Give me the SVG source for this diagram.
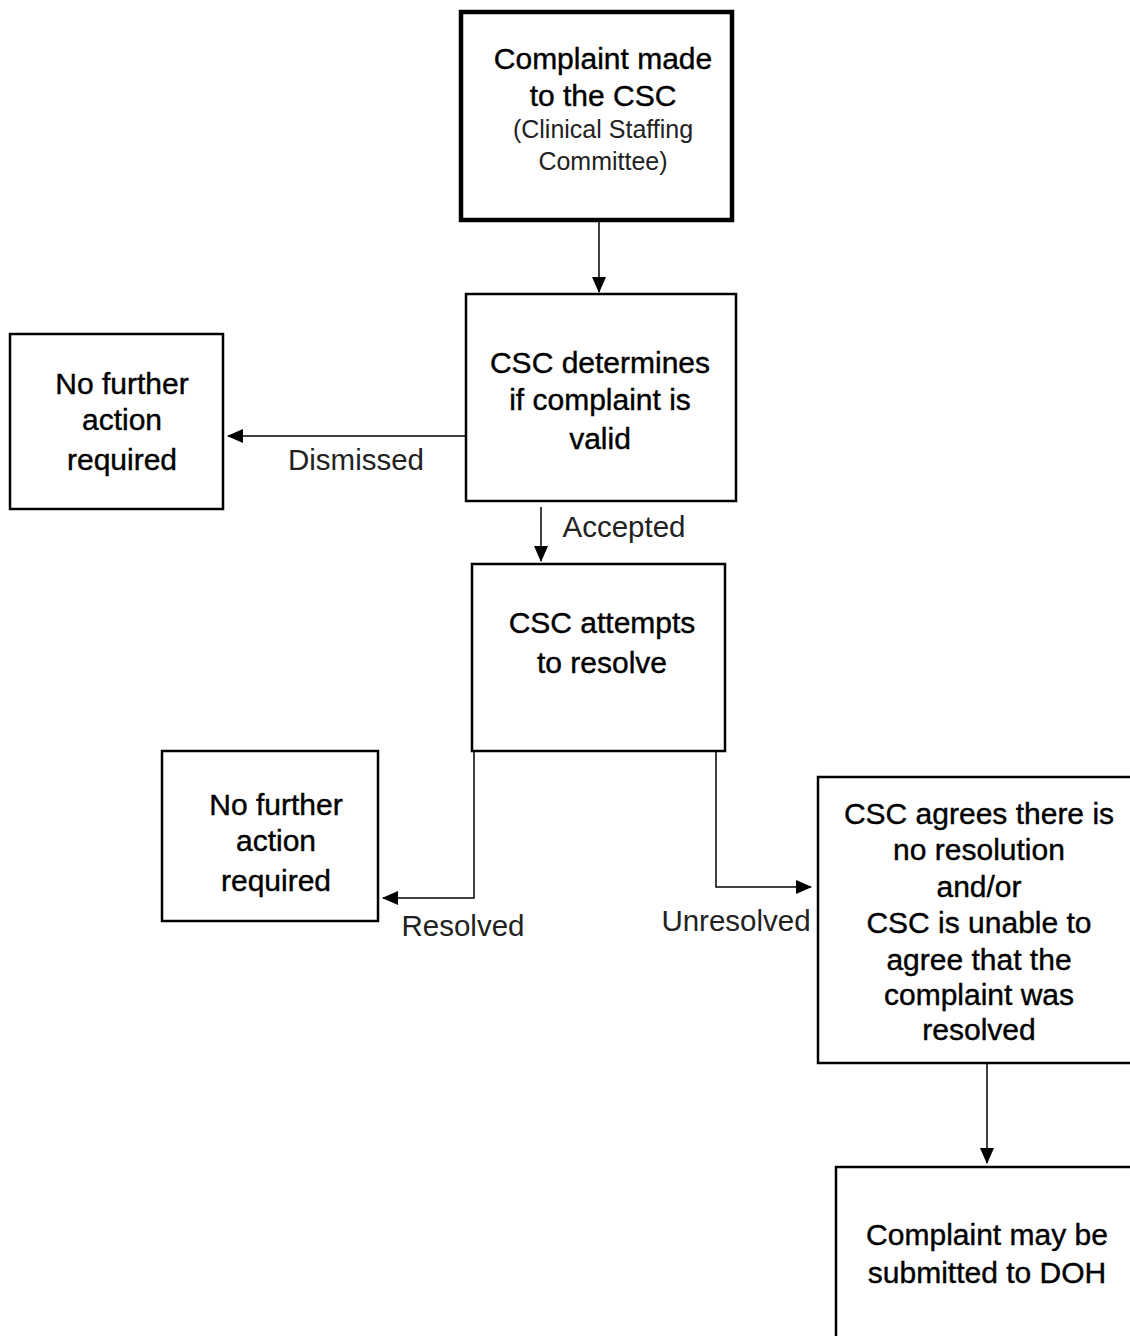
<svg xmlns="http://www.w3.org/2000/svg" width="1130" height="1336" viewBox="0 0 1130 1336">
<style>
.box{fill:#fff;stroke:#000;stroke-width:2.5}
.thick{stroke-width:4.5}
.t{font-family:"Liberation Sans",Arial,sans-serif;font-size:30px;fill:#000;stroke:#000;stroke-width:0.4;text-anchor:middle}
.s{font-family:"Liberation Sans",Arial,sans-serif;font-size:25px;fill:#222;text-anchor:middle}
.l{font-family:"Liberation Sans",Arial,sans-serif;font-size:29.5px;fill:#222;text-anchor:middle}
.c{fill:none;stroke:#000;stroke-width:1.5}
</style>
<defs>
<marker id="ah" markerUnits="userSpaceOnUse" markerWidth="16" markerHeight="14" refX="15" refY="7" orient="auto">
<path d="M0,0 L16,7 L0,14 Z" fill="#000"/>
</marker>
</defs>
<rect width="1130" height="1336" fill="#fff"/>
<g id="connectors">
<line class="c" x1="599" y1="222" x2="599" y2="292" marker-end="url(#ah)"/>
<line class="c" x1="466" y1="436" x2="228" y2="436" marker-end="url(#ah)"/>
<line class="c" x1="541" y1="507" x2="541" y2="561" marker-end="url(#ah)"/>
<polyline class="c" points="474,752 474,898 383,898" marker-end="url(#ah)"/>
<polyline class="c" points="716,752 716,887 811,887" marker-end="url(#ah)"/>
<line class="c" x1="987" y1="1064" x2="987" y2="1163" marker-end="url(#ah)"/>
<text class="l" x="356" y="470">Dismissed</text>
<text class="l" x="624" y="537">Accepted</text>
<text class="l" x="463" y="936">Resolved</text>
<text class="l" x="736" y="931">Unresolved</text>
</g>
<g id="n1">
<rect class="box thick" x="461" y="12" width="271" height="208"/>
<text class="t" x="603" y="69">Complaint made</text>
<text class="t" x="603" y="106">to the CSC</text>
<text class="s" x="603" y="138">(Clinical Staffing</text>
<text class="s" x="603" y="170">Committee)</text>
</g>
<g id="n2">
<rect class="box" x="466" y="294" width="270" height="207"/>
<text class="t" x="600" y="373">CSC determines</text>
<text class="t" x="600" y="410">if complaint is</text>
<text class="t" x="600" y="449">valid</text>
</g>
<g id="n3">
<rect class="box" x="10" y="334" width="213" height="175"/>
<text class="t" x="122" y="394">No further</text>
<text class="t" x="122" y="430">action</text>
<text class="t" x="122" y="470">required</text>
</g>
<g id="n4">
<rect class="box" x="472" y="564" width="253" height="187"/>
<text class="t" x="602" y="633">CSC attempts</text>
<text class="t" x="602" y="673">to resolve</text>
</g>
<g id="n5">
<rect class="box" x="162" y="751" width="216" height="170"/>
<text class="t" x="276" y="815">No further</text>
<text class="t" x="276" y="851">action</text>
<text class="t" x="276" y="891">required</text>
</g>
<g id="n6">
<rect class="box" x="818" y="777" width="320" height="286"/>
<text class="t" x="979" y="824">CSC agrees there is</text>
<text class="t" x="979" y="860">no resolution</text>
<text class="t" x="979" y="897">and/or</text>
<text class="t" x="979" y="933">CSC is unable to</text>
<text class="t" x="979" y="970">agree that the</text>
<text class="t" x="979" y="1005">complaint was</text>
<text class="t" x="979" y="1040">resolved</text>
</g>
<g id="n7">
<rect class="box" x="836" y="1167" width="310" height="190"/>
<text class="t" x="987" y="1245">Complaint may be</text>
<text class="t" x="987" y="1283">submitted to DOH</text>
</g>
</svg>
